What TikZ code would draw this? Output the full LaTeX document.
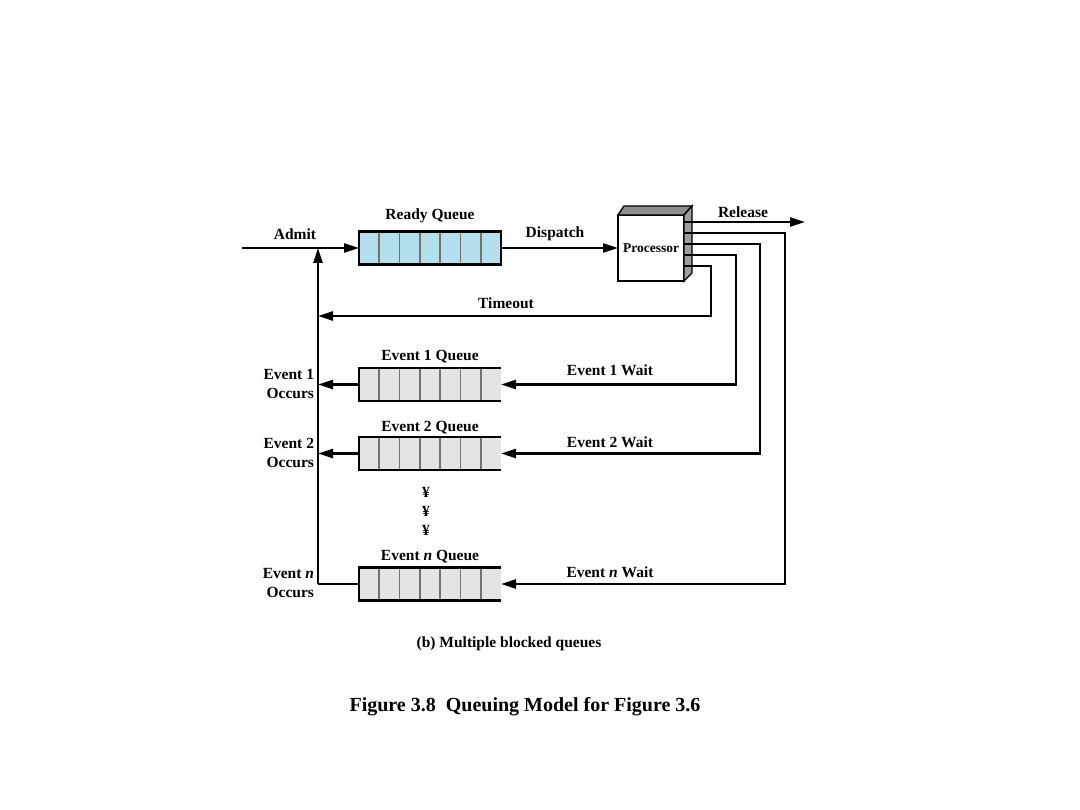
\documentclass[tikz,border=0pt]{standalone}
\usepackage{fontspec}
\setmainfont{Liberation Serif}
\usetikzlibrary{arrows.meta,calc}
\begin{document}
\begin{tikzpicture}[x=1pt,y=-1pt,
  every node/.style={font=\fontsize{15.5}{18}\selectfont\bfseries, inner sep=0pt, outer sep=0pt},
  ln/.style={line width=2.3pt, black},
  arr/.style={ln, -{Triangle[length=15pt,width=9pt]}},
  qbox/.style={minimum width=142pt, minimum height=33pt, inner sep=0pt, outer sep=0pt},
  divider/.style={line width=1.6pt, draw=black!55},
  lbl/.style={anchor=center},
  occ/.style={anchor=east, align=right, font=\fontsize{15.5}{18.5}\selectfont\bfseries}
]
\definecolor{rqblue}{HTML}{B3E0EC}
\definecolor{qgray}{HTML}{E4E4E4}
\useasboundingbox (0,0) rectangle (1080,810);

% ready queue
\node[qbox, fill=rqblue] (rq) at (430,248) {};
\foreach \k in {1,...,6}
  \draw[divider] ($(rq.north west)!\k/7!(rq.north east)$) -- ($(rq.south west)!\k/7!(rq.south east)$);
\draw[ln] (rq.north west) rectangle (rq.south east);
\node[lbl] (rqlbl) at (430,216) {Ready Queue};

% event queues
\foreach \nm/\yy in {e1/384.5, e2/453.5, en/584}{
  \node[qbox, fill=qgray] (\nm) at (430,\yy) {};
  \foreach \k in {1,...,6}
    \draw[divider] ($(\nm.north west)!\k/7!(\nm.north east)$) -- ($(\nm.south west)!\k/7!(\nm.south east)$);
  \draw[ln] (\nm.north east) -- (\nm.north west) -- (\nm.south west) -- (\nm.south east);
}
\node[lbl] (e1lbl) at (430,357) {Event 1 Queue};
\node[lbl] (e2lbl) at (430,428) {Event 2 Queue};
\node[lbl] (enlbl) at (430,557) {Event \textit{n} Queue};

% processor
\node[draw, line width=1.8pt, fill=white, minimum width=66pt, minimum height=66pt, font=\fontsize{13.5}{15}\selectfont\bfseries] (proc) at (651,248) {Processor};
\draw[line width=1.4pt, fill=black!45] (proc.north west) -- ++(6,-9) -- ++(68,0) -- (proc.north east) -- cycle;
\draw[line width=1.4pt, fill=black!38] (proc.north east) -- ++(8,-9) -- ++(0,67) -- (proc.south east) -- cycle;

% processor output points
\coordinate (o1) at (684,222);
\coordinate (o2) at (684,233);
\coordinate (o3) at (684,244);
\coordinate (o4) at (684,255);
\coordinate (o5) at (684,266);

% admit and dispatch
\coordinate (admitstart) at (242,248);
\draw[arr] (admitstart) -- (rq.west);
\node[lbl] (admit) at (295,234) {Admit};
\draw[arr] (rq.east) -- (proc.west);
\node[lbl] (disp) at (555,234) {Dispatch};

% release
\coordinate (relend) at (805,222);
\draw[arr] (o1) -- (relend);
\node[lbl] (rel) at (743,212) {Release};

% timeout
\coordinate (tmo) at (318,316);
\draw[arr] (o5) -- ++(27,0) |- (tmo);
\node[lbl] (tmolbl) at (506,303) {Timeout};

% waits
\draw[arr] (o4) -- ++(52,0) |- (e1.east);
\draw[arr] (o3) -- ++(76,0) |- (e2.east);
\draw[arr] (o2) -- ++(101,0) |- (en.east);
\node[lbl] (w1) at (610,370) {Event 1 Wait};
\node[lbl] (w2) at (610,442) {Event 2 Wait};
\node[lbl] (wn) at (610,572) {Event \textit{n} Wait};

% return line
\coordinate (vb) at (318,584);
\coordinate (vt) at (318,248);
\coordinate (v1) at (318,384.5);
\coordinate (v2) at (318,453.5);
\draw[ln] (en.west) -- (vb);
\draw[arr] (vb) -- (vt);
\draw[arr] (e1.west) -- (v1);
\draw[arr] (e2.west) -- (v2);
\node[occ] (o1lbl) at (314,384) {Event 1\\Occurs};
\node[occ] (o2lbl) at (314,453) {Event 2\\Occurs};
\node[occ] (onlbl) at (314,583) {Event \textit{n}\\Occurs};

% dots
\node[lbl] (d1) at (426,492) {¥};
\node[lbl] (d2) at (426,511) {¥};
\node[lbl] (d3) at (426,530) {¥};

% captions
\node[lbl] (cap) at (509,644) {(b) Multiple blocked queues};
\node[lbl, font=\fontsize{20}{24}\selectfont\bfseries] (title) at (525,707) {Figure 3.8\ \ Queuing Model for Figure 3.6};
\end{tikzpicture}
\end{document}
